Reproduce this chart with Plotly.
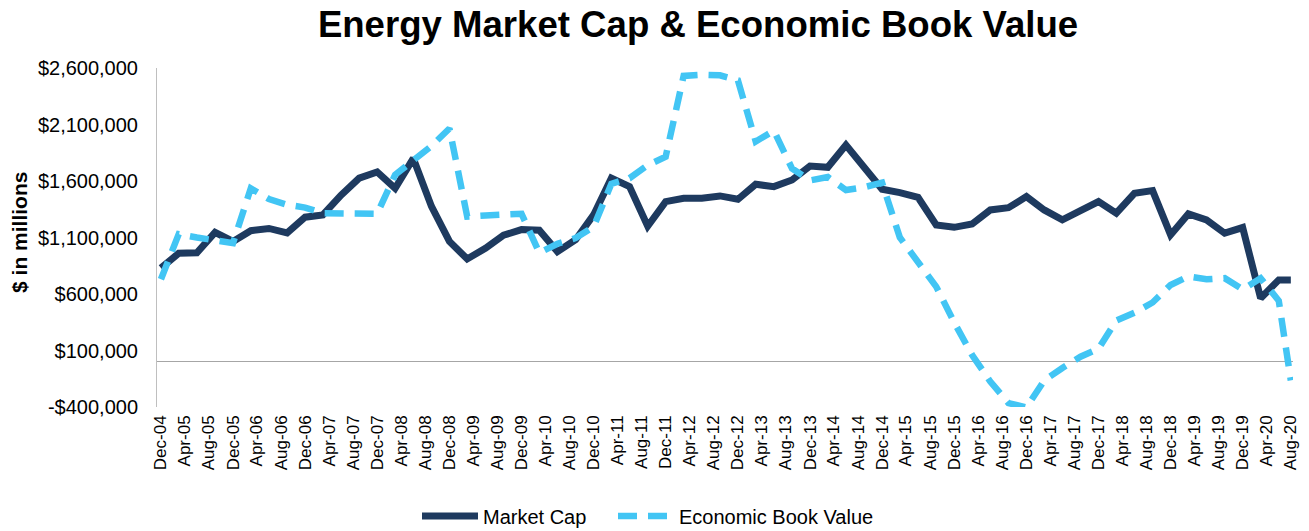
import plotly.graph_objects as go

# Quarterly observation dates (last point Aug-20)
dates = [
    "2004-12-01", "2005-03-01", "2005-06-01", "2005-09-01",
    "2005-12-01", "2006-03-01", "2006-06-01", "2006-09-01",
    "2006-12-01", "2007-03-01", "2007-06-01", "2007-09-01",
    "2007-12-01", "2008-03-01", "2008-06-01", "2008-09-01",
    "2008-12-01", "2009-03-01", "2009-06-01", "2009-09-01",
    "2009-12-01", "2010-03-01", "2010-06-01", "2010-09-01",
    "2010-12-01", "2011-03-01", "2011-06-01", "2011-09-01",
    "2011-12-01", "2012-03-01", "2012-06-01", "2012-09-01",
    "2012-12-01", "2013-03-01", "2013-06-01", "2013-09-01",
    "2013-12-01", "2014-03-01", "2014-06-01", "2014-09-01",
    "2014-12-01", "2015-03-01", "2015-06-01", "2015-09-01",
    "2015-12-01", "2016-03-01", "2016-06-01", "2016-09-01",
    "2016-12-01", "2017-03-01", "2017-06-01", "2017-09-01",
    "2017-12-01", "2018-03-01", "2018-06-01", "2018-09-01",
    "2018-12-01", "2019-03-01", "2019-06-01", "2019-09-01",
    "2019-12-01", "2020-03-01", "2020-06-01", "2020-08-01",
]

# $ in millions
market_cap = [
    830000, 960000, 965000, 1145000,
    1065000, 1160000, 1180000, 1140000,
    1280000, 1300000, 1475000, 1625000,
    1680000, 1535000, 1800000, 1375000,
    1065000, 910000, 1005000, 1120000,
    1170000, 1165000, 975000, 1080000,
    1300000, 1625000, 1550000, 1200000,
    1418000, 1447000, 1447000, 1468000,
    1438000, 1571000, 1550000, 1609000,
    1733000, 1721000, 1919000, 1733000,
    1527000, 1497000, 1456000, 1211000,
    1190000, 1220000, 1344000, 1364000,
    1462000, 1344000, 1256000, 1338000,
    1418000, 1315000, 1491000, 1515000,
    1123000, 1309000, 1256000, 1138000,
    1188000, 563000, 725000, 725000,
]

economic_book_value = [
    730000, 1130000, 1100000, 1080000,
    1050000, 1535000, 1440000, 1390000,
    1365000, 1315000, 1310000, 1310000,
    1310000, 1655000, 1785000, 1910000,
    2065000, 1285000, 1295000, 1305000,
    1310000, 965000, 1045000, 1095000,
    1195000, 1575000, 1625000, 1740000,
    1815000, 2530000, 2540000, 2535000,
    2490000, 1950000, 2045000, 1710000,
    1605000, 1635000, 1520000, 1545000,
    1585000, 1100000, 885000, 665000,
    350000, 60000, -175000, -365000,
    -405000, -165000, -55000, 45000,
    115000, 365000, 435000, 525000,
    680000, 755000, 730000, 740000,
    640000, 740000, 540000, -165000,
]

y_tickvals = [-400000, 100000, 600000, 1100000, 1600000, 2100000, 2600000]
y_ticktext = ["-$400,000", "$100,000", "$600,000", "$1,100,000",
              "$1,600,000", "$2,100,000", "$2,600,000"]

FONT = "Liberation Sans, Arial, sans-serif"
W, H = 1309, 531
L, R, T, B = 157, 16, 68, 124

fig = go.Figure()
fig.add_trace(go.Scatter(
    x=dates, y=market_cap, name="Market Cap", mode="lines",
    line=dict(color="#1E3A5F", width=7), legendwidth=125,
))
fig.add_trace(go.Scatter(
    x=dates, y=economic_book_value, name="Economic Book Value", mode="lines",
    line=dict(color="#42C5F4", width=6.5, dash="19px,11px"),
))

fig.update_layout(
    width=W, height=H,
    margin=dict(l=L, r=R, t=T, b=B, pad=0, autoexpand=False),
    paper_bgcolor="white", plot_bgcolor="white",
    font=dict(family=FONT, size=20, color="black"),
    title=dict(
        text="<b>Energy Market Cap & Economic Book Value</b>",
        font=dict(family=FONT, size=36.6, color="black"),
        x=698 / W, xref="container", xanchor="center",
        y=1 - 24 / H, yref="container", yanchor="middle",
    ),
    showlegend=True,
    legend=dict(
        orientation="h", xref="container", yref="container",
        x=648 / W, xanchor="center", y=1 - 516 / H, yanchor="middle",
        font=dict(family=FONT, size=20, color="black"),
        itemwidth=56, bgcolor="rgba(0,0,0,0)",
    ),
    xaxis=dict(
        type="date", automargin=False,
        range=["2004-11-11", "2020-08-12"],
        tick0="2004-12-01", dtick="M4", tickformat="%b-%y",
        tickangle=-90, ticks="", showgrid=False, showline=False,
        zeroline=False, ticklabelstandoff=4,
        tickfont=dict(family=FONT, size=17, color="black"),
    ),
    yaxis=dict(
        automargin=False,
        range=[-400000, 2600000],
        tickvals=y_tickvals, ticktext=y_ticktext,
        ticks="", showgrid=False,
        showline=True, linecolor="#BFBFBF", linewidth=1,
        zeroline=True, zerolinecolor="#A6A6A6", zerolinewidth=1,
        ticklabelstandoff=14,
        tickfont=dict(family=FONT, size=20, color="black"),
    ),
    annotations=[dict(
        text="<b>$ in millions</b>", textangle=-90,
        xref="paper", yref="paper",
        x=(20 - L) / (W - L - R), y=0.5 + (237.6 - 233) / (H - T - B),
        xanchor="center", yanchor="middle", showarrow=False,
        font=dict(family=FONT, size=21, color="black"),
    )],
)

fig.write_html(
    "out.html",
    config={"displayModeBar": False},
    post_script="document.body.style.margin='0';document.body.style.padding='0';"
                "document.documentElement.style.overflow='hidden';",
)
